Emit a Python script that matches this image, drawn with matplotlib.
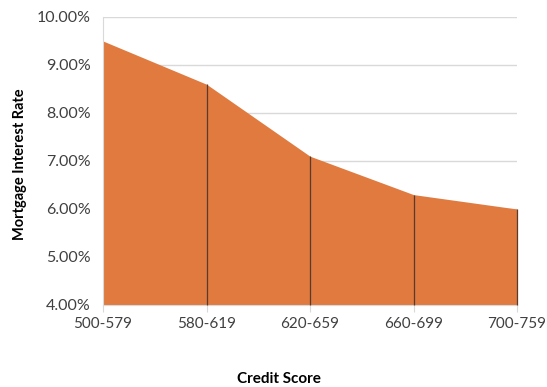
import matplotlib
matplotlib.use("Agg")
import matplotlib.pyplot as plt
from matplotlib.ticker import FuncFormatter

categories = ["500-579", "580-619", "620-659", "660-699", "700-759"]
rates = [9.5, 8.6, 7.1, 6.3, 6.0]
yticks = [4, 5, 6, 7, 8, 9, 10]

plt.rcParams['font.family'] = ['Lato', 'DejaVu Sans']

W, H = 547, 387
fig = plt.figure(figsize=(W / 100, H / 100), dpi=100)
ax = fig.add_axes([103 / W, 1 - 305 / H, (517 - 103) / W, (305 - 17) / H])

x = list(range(len(categories)))
ax.fill_between(x, 4, rates, color="#E07A3F", linewidth=0, zorder=2)
for xi, r in zip(x[1:], rates[1:]):
    ax.vlines(xi, 4, r, color="#5A3A2A", linewidth=0.9, zorder=3, clip_on=False)

ax.set_xlim(0, len(categories) - 1)
ax.set_ylim(4, 10)
ax.set_yticks(yticks)
ax.yaxis.set_major_formatter(FuncFormatter(lambda v, p: f"{v:.2f}%"))
ax.set_xticks(x)
ax.set_xticklabels(categories)
ax.grid(axis="y", color="#D9D9D9", linewidth=1, zorder=1)
ax.set_axisbelow(True)

for s in ["top", "right"]:
    ax.spines[s].set_visible(False)
ax.spines["left"].set_color("#D9D9D9")
ax.spines["bottom"].set_color("#D9D9D9")
ax.tick_params(axis="y", length=0, labelsize=11.5, colors="#404040", pad=9)
ax.tick_params(axis="x", length=5, color="#D9D9D9", labelsize=11, labelcolor="#404040", pad=4)

fig.text(279 / W, 1 - 379 / H, "Credit Score", fontsize=11, fontweight="bold",
         ha="center", va="center")
fig.text(20 / W, 1 - 164 / H, "Mortgage Interest Rate", fontsize=10.5, fontweight="bold",
         ha="center", va="center", rotation=90)

fig.savefig("out.png", dpi=100)
